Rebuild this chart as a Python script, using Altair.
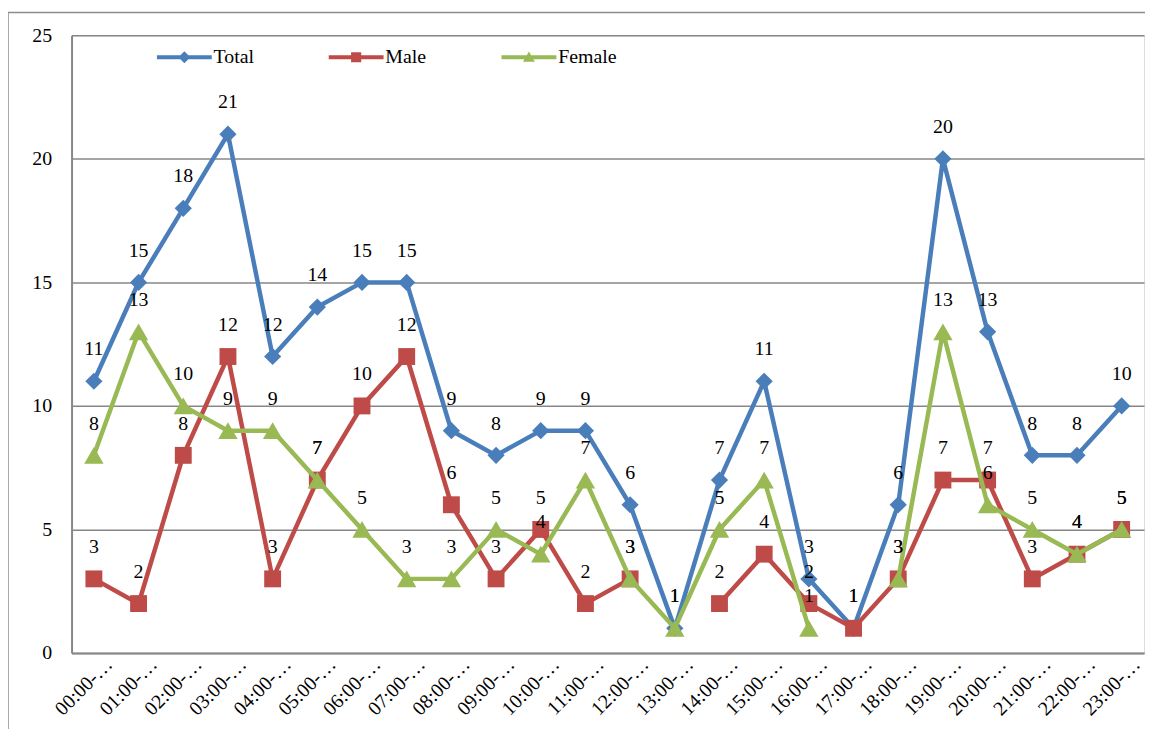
import altair as alt
import pandas as pd

FONT = "Liberation Serif"

hours = [f"{h:02d}:00-{h + 1:02d}:00" for h in range(24)]
series_names = ["Total", "Male", "Female"]
total = [11, 15, 18, 21, 12, 14, 15, 15, 9, 8, 9, 9, 6, 1, 7, 11, 3, 1, 6, 20, 13, 8, 8, 10]
male = [3, 2, 8, 12, 3, 7, 10, 12, 6, 3, 5, 2, 3, None, 2, 4, 2, 1, 3, 7, 7, 3, 4, 5]
female = [8, 13, 10, 9, 9, 7, 5, 3, 3, 5, 4, 7, 3, 1, 5, 7, 1, None, 3, 13, 6, 5, 4, 5]
colors = ["#4A7EBB", "#BE4B48", "#98B954"]
shapes = ["diamond", "square", "triangle-up"]
sizes = [300, 289, 380]

rows = []
for name, vals in zip(series_names, [total, male, female]):
    for h, v in zip(hours, vals):
        rows.append({"hour": h, "series": name, "value": v})
df = pd.DataFrame(rows)

LINE = "M-1,-0.33 L8.2,-0.33 L8.2,0.33 L-1,0.33 Z "
P_T = LINE + "M2.6,0 L3.6,-1 L4.6,0 L3.6,1 Z"
P_M = LINE + "M2.75,-0.85 L4.45,-0.85 L4.45,0.85 L2.75,0.85 Z"
P_F = LINE + "M3.6,-0.95 L4.6,0.75 L2.6,0.75 Z"

legend = alt.Legend(
    orient="none",
    legendX=82,
    legendY=12,
    direction="horizontal",
    title=None,
    labelFont=FONT,
    labelFontSize=20,
    labelColor="black",
    symbolSize=144,
    symbolStrokeWidth=0,
    symbolOpacity=1,
    labelOffset=41,
    columnPadding=71,
    padding=0,
)

x_enc = alt.X(
    "hour:N",
    sort=hours,
    scale=alt.Scale(type="point", domain=hours, padding=0.5),
    axis=alt.Axis(
        title=None,
        labelAngle=-45,
        labelAlign="right",
        labelBaseline="top",
        labelOffset=8,
        labelPadding=1,
        ticks=False,
        labelExpr="slice(datum.label, 0, 6) + '…'",
        labelFont=FONT,
        labelFontSize=20,
        labelColor="black",
        domainColor="#878787",
        domainWidth=2,
        grid=False,
    ),
)
y_enc = alt.Y(
    "value:Q",
    scale=alt.Scale(domain=[0, 25]),
    axis=alt.Axis(
        title=None,
        values=[0, 5, 10, 15, 20, 25],
        ticks=False,
        labelPadding=20,
        labelFont=FONT,
        labelFontSize=20,
        labelColor="black",
        domainColor="#878787",
        domainWidth=2,
        gridColor="#878787",
        gridWidth=1.5,
    ),
)
color_scale = alt.Scale(domain=series_names, range=colors)

frame = alt.Chart(pd.DataFrame({"a": [0]})).mark_rect(
    filled=False, stroke="#8c8c8c", strokeWidth=1.5
).encode(
    x=alt.value(-64), x2=alt.value(1300), y=alt.value(-23), y2=alt.value(900)
)

base = alt.Chart(df)

# legend-providing layer: its own marks are fully transparent
legend_layer = base.transform_filter("datum.value != null").mark_point(
    filled=True, opacity=0
).encode(
    x=x_enc,
    y=y_enc,
    color=alt.Color("series:N", scale=color_scale, legend=legend),
    shape=alt.Shape(
        "series:N",
        scale=alt.Scale(domain=series_names, range=[P_T, P_M, P_F]),
        legend=legend,
    ),
)

layers = [frame, legend_layer]
for name, shp, sz in zip(series_names, shapes, sizes):
    sub = base.transform_filter(alt.datum.series == name)
    layers.append(
        sub.mark_line(strokeWidth=4.5).encode(
            x=x_enc, y=y_enc, color=alt.Color("series:N", scale=color_scale, legend=None)
        )
    )
    layers.append(
        sub.mark_point(filled=True, shape=shp, size=sz, opacity=1).encode(
            x=x_enc, y=y_enc, color=alt.Color("series:N", scale=color_scale, legend=None)
        )
    )

labels = base.transform_filter("datum.value != null").mark_text(
    font=FONT, fontSize=20, dy=-32, baseline="middle", color="black"
).encode(x=x_enc, y=y_enc, text="value:Q")
layers.append(labels)

chart = alt.layer(*layers).properties(
    width=1080,
    height=622,
    autosize=alt.AutoSizeParams(type="none"),
    padding={"left": 64, "top": 25, "right": 1, "bottom": 74},
).configure_view(stroke=None).configure(background="white")

chart.save("out.html", embed_options={"renderer": "svg", "actions": False})
